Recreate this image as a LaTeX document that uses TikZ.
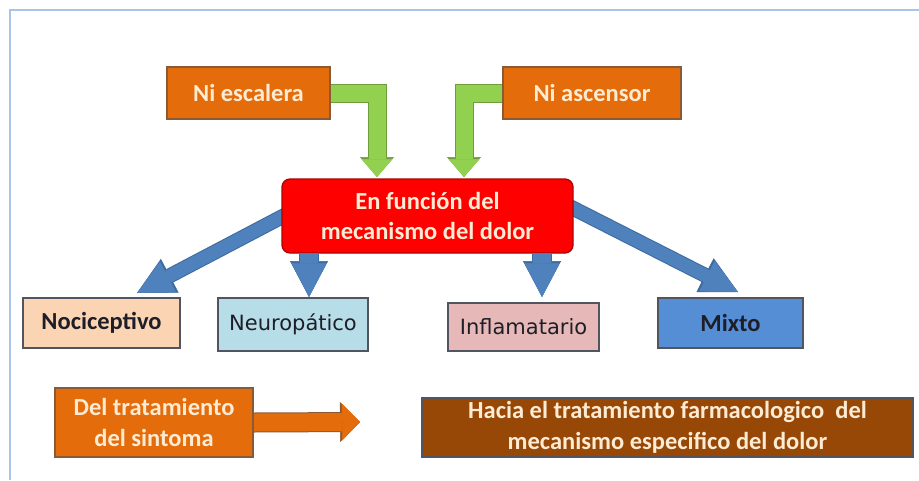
\documentclass[tikz,border=0pt]{standalone}
\usepackage{fontspec}
\setmainfont{Carlito}
\newfontfamily\verd{DejaVu Sans}
\usetikzlibrary{arrows.meta,backgrounds,calc}
\definecolor{framec}{HTML}{A8C5E6}
\definecolor{orfill}{HTML}{E46C0A}
\definecolor{orline}{HTML}{8A5A36}
\definecolor{cream}{HTML}{FDEBD3}
\definecolor{redfill}{HTML}{FF0000}
\definecolor{redline}{HTML}{B00000}
\definecolor{gfill}{HTML}{92D050}
\definecolor{gline}{HTML}{6E9E3C}
\definecolor{bfill}{HTML}{4F81BD}
\definecolor{bline}{HTML}{3C6A9E}
\definecolor{nocifill}{HTML}{FBD4B4}
\definecolor{neurofill}{HTML}{B7DEE8}
\definecolor{inflfill}{HTML}{E6B9B8}
\definecolor{mixfill}{HTML}{558ED5}
\definecolor{brownfill}{HTML}{984806}
\definecolor{boxline}{HTML}{505560}
\definecolor{darktext}{HTML}{1E1E28}
\tikzset{
  lbl/.style={inner sep=0pt, align=center, font=\fontsize{24.5}{30.5}\selectfont\bfseries},
  orbox/.style={lbl, fill=orfill, draw=orline, line width=1.3pt, text=cream},
  redbox/.style={lbl, fill=redfill, draw=redline, line width=1.3pt, rounded corners=8pt, text=cream},
  catbox/.style={lbl, draw=boxline, line width=1.3pt, text=darktext},
  verdbox/.style={catbox, font=\fontsize{21}{26}\selectfont\verd},
  brownbox/.style={lbl, fill=brownfill, draw=boxline, line width=1.3pt, text=cream},
  gA/.style={draw=gline, line width=19pt, -{Triangle[length=20pt,width=34pt,line width=0.5pt]}},
  gB/.style={draw=gfill, line width=17pt, -{Triangle[length=18pt,width=31pt,line width=0.5pt]}},
  bA/.style={draw=bline, line width=15pt, -{Triangle[length=37pt,width=38pt,line width=0.5pt]}},
  bB/.style={draw=bfill, line width=13pt, -{Triangle[length=35pt,width=34pt,line width=0.5pt]}},
  cA/.style={draw=bline, line width=20pt, -{Triangle[length=36pt,width=38pt,line width=0.5pt]}},
  cB/.style={draw=bfill, line width=18pt, -{Triangle[length=34pt,width=35pt,line width=0.5pt]}},
  oA/.style={draw=orline, line width=20pt, -{Triangle[length=20pt,width=40pt,line width=0.5pt]}},
  oB/.style={draw=orfill, line width=18pt, -{Triangle[length=18pt,width=37pt,line width=0.5pt]}}
}
\begin{document}
\begin{tikzpicture}[x=1pt,y=-1pt]
\useasboundingbox (0,0) rectangle (919,480);

% nodes
\node[orbox, minimum width=163pt, minimum height=52pt] (esc) at (248.5,93) {Ni escalera};
\node[orbox, minimum width=178pt, minimum height=52pt] (asc) at (592,93) {Ni ascensor};
\node[redbox, minimum width=291pt, minimum height=74pt] (red) at (427.5,216) {En función del\\mecanismo del dolor};
\node[catbox, fill=nocifill, minimum width=157pt, minimum height=50pt] (noci) at (101.5,323) {Nociceptivo};
\node[verdbox, fill=neurofill, minimum width=150pt, minimum height=53pt] (neuro) at (293,324.5) {Neuropático};
\node[verdbox, fill=inflfill, minimum width=151pt, minimum height=48pt] (infl) at (523.5,327) {Inflamatario};
\node[catbox, fill=mixfill, minimum width=145pt, minimum height=50pt] (mixto) at (730.5,323) {Mixto};
\node[orbox, minimum width=198pt, minimum height=69pt] (del) at (154,422.5) {Del tratamiento\\del sintoma};
\node[brownbox, minimum width=491pt, minimum height=59pt] (hacia) at (667.5,427.5) {Hacia el tratamiento farmacologico\ \ del\\mecanismo especifico del dolor};

% arrow end points
\coordinate (gt1) at (377,177);
\coordinate (gt2) at (464,177);
\coordinate (bt1) at (137,293);
\coordinate (bt2) at (309,297);
\coordinate (bt3) at (542,297);
\coordinate (bt4) at (738,292);
\coordinate (ot) at (360,422);
\coordinate (bs1) at ($(red.west)+(6,-2)$);
\coordinate (bs4) at ($(red.east)+(-7,-11)$);

\begin{pgfonlayer}{background}
  \fill[white] (0,0) rectangle (919,480);
  \draw[framec, line width=2.5pt] (919,10) -- (10,10) -- (10,480);
  % green bent arrows
  \draw[gA] (esc.east) -| (gt1);
  \draw[gB] (esc.east) -| (gt1);
  \draw[gA] (asc.west) -| (gt2);
  \draw[gB] (asc.west) -| (gt2);
  % blue arrows
  \draw[bA] (bs1) -- (bt1);
  \draw[bB] (bs1) -- (bt1);
  \draw[bA] (bs4) -- (bt4);
  \draw[bB] (bs4) -- (bt4);
  \draw[cA] (red.south -| bt2) -- (bt2);
  \draw[cB] (red.south -| bt2) -- (bt2);
  \draw[cA] (red.south -| bt3) -- (bt3);
  \draw[cB] (red.south -| bt3) -- (bt3);
  % orange arrow
  \draw[oA] (del.east) -- (ot);
  \draw[oB] (del.east) -- (ot);
\end{pgfonlayer}
\end{tikzpicture}
\end{document}
